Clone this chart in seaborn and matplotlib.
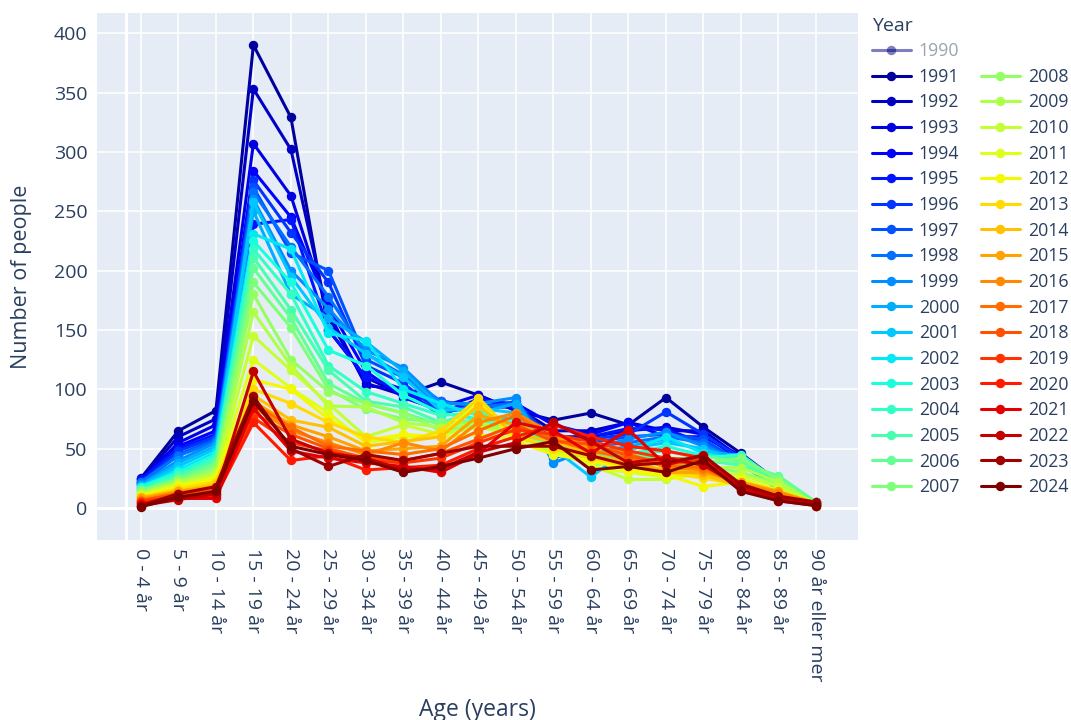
import numpy as np
import pandas as pd
import matplotlib
matplotlib.use("Agg")
import matplotlib.pyplot as plt
from matplotlib.lines import Line2D
import seaborn as sns

# age groups (x axis categories)
ages = ["0 - 4 år", "5 - 9 år", "10 - 14 år", "15 - 19 år", "20 - 24 år",
        "25 - 29 år", "30 - 34 år", "35 - 39 år", "40 - 44 år", "45 - 49 år",
        "50 - 54 år", "55 - 59 år", "60 - 64 år", "65 - 69 år", "70 - 74 år",
        "75 - 79 år", "80 - 84 år", "85 - 89 år", "90 år eller mer"]

years = list(range(1990, 2025))
hidden_year = 1990  # shown in legend only (trace switched off)

# number of people per age group, one list per year
y1991 = [25, 65, 82, 390, 329, 150, 110, 95, 106, 95, 82, 74, 80, 70, 93, 68, 46, 22, 4]
y1992 = [24, 60, 75, 353, 302, 160, 105, 95, 90, 85, 85, 65, 65, 72, 65, 65, 42, 20, 4]
y1993 = [23, 55, 70, 307, 263, 165, 103, 100, 85, 95, 82, 60, 60, 65, 68, 62, 40, 18, 3]
y1994 = [22, 52, 65, 284, 245, 170, 115, 93, 82, 90, 88, 70, 62, 72, 60, 60, 44, 20, 4]
y1995 = [24, 50, 62, 239, 243, 150, 110, 100, 78, 92, 85, 55, 60, 67, 66, 55, 40, 15, 3]
y1996 = [21, 48, 60, 276, 232, 190, 120, 105, 80, 86, 88, 58, 58, 62, 81, 62, 42, 18, 5]
y1997 = [20, 45, 58, 270, 215, 200, 125, 110, 85, 82, 90, 50, 55, 60, 62, 58, 38, 16, 3]
y1998 = [22, 44, 56, 266, 220, 178, 130, 112, 90, 85, 88, 42, 52, 55, 60, 55, 36, 18, 4]
y1999 = [20, 40, 55, 260, 200, 168, 133, 118, 88, 88, 93, 38, 50, 58, 64, 52, 40, 15, 3]
y2000 = [19, 38, 52, 250, 180, 160, 140, 115, 85, 80, 88, 45, 46, 52, 58, 48, 44, 18, 5]
y2001 = [18, 35, 50, 258, 195, 152, 130, 110, 82, 84, 80, 50, 26, 50, 55, 50, 38, 16, 4]
y2002 = [17, 32, 47, 231, 218, 147, 141, 100, 88, 78, 75, 55, 40, 48, 60, 46, 40, 20, 3]
y2003 = [18, 30, 45, 225, 190, 133, 120, 95, 80, 75, 72, 52, 42, 45, 52, 44, 42, 18, 4]
y2004 = [16, 28, 42, 218, 180, 120, 98, 88, 78, 80, 70, 50, 38, 46, 48, 42, 45, 22, 5]
y2005 = [15, 27, 40, 211, 167, 116, 90, 85, 72, 82, 68, 48, 45, 44, 42, 40, 36, 26, 4]
y2006 = [14, 25, 38, 202, 160, 105, 88, 80, 70, 75, 65, 50, 48, 42, 40, 44, 38, 27, 5]
y2007 = [15, 24, 35, 190, 152, 100, 83, 75, 72, 72, 62, 46, 40, 40, 38, 38, 42, 24, 3]
y2008 = [13, 22, 32, 180, 125, 98, 88, 80, 65, 70, 60, 52, 35, 42, 35, 36, 30, 20, 4]
y2009 = [12, 22, 30, 165, 120, 86, 85, 72, 68, 72, 64, 46, 38, 36, 30, 34, 34, 22, 3]
y2010 = [11, 20, 28, 145, 116, 88, 60, 70, 62, 68, 62, 48, 36, 24, 24, 30, 28, 18, 4]
y2011 = [11, 19, 26, 125, 101, 80, 55, 60, 60, 62, 58, 52, 34, 30, 26, 28, 25, 15, 3]
y2012 = [10, 18, 24, 108, 100, 75, 57, 62, 60, 90, 56, 45, 40, 32, 28, 18, 22, 14, 4]
y2013 = [9, 16, 22, 100, 88, 72, 60, 55, 65, 93, 60, 50, 42, 35, 30, 25, 20, 12, 3]
y2014 = [9, 14, 20, 95, 74, 68, 52, 56, 60, 86, 62, 56, 45, 38, 32, 28, 18, 12, 3]
y2015 = [8, 14, 18, 90, 70, 60, 48, 50, 52, 78, 70, 60, 50, 40, 30, 30, 22, 14, 4]
y2016 = [7, 13, 17, 85, 65, 55, 45, 55, 48, 72, 80, 62, 52, 46, 34, 32, 20, 13, 3]
y2017 = [6, 12, 16, 88, 68, 52, 48, 45, 50, 65, 78, 58, 48, 42, 36, 34, 18, 10, 3]
y2018 = [6, 12, 15, 80, 62, 50, 42, 40, 46, 58, 70, 56, 54, 44, 38, 38, 20, 9, 4]
y2019 = [5, 10, 12, 76, 55, 48, 40, 38, 42, 55, 66, 62, 56, 48, 42, 40, 18, 8, 2]
y2020 = [4, 9, 10, 72, 40, 44, 32, 34, 36, 50, 60, 70, 60, 52, 48, 42, 16, 7, 3]
y2021 = [3, 8, 8, 84, 48, 42, 38, 35, 30, 46, 72, 65, 46, 66, 36, 45, 15, 6, 2]
y2022 = [2, 7, 12, 115, 58, 46, 42, 32, 33, 47, 55, 72, 56, 38, 42, 36, 18, 8, 3]
y2023 = [2, 12, 18, 94, 50, 35, 45, 40, 46, 52, 52, 52, 44, 36, 38, 44, 20, 10, 5]
y2024 = [1, 9, 14, 90, 52, 45, 40, 30, 35, 42, 50, 56, 32, 35, 30, 40, 14, 6, 2]

series = [y1991, y1992, y1993, y1994, y1995, y1996, y1997, y1998, y1999, y2000,
          y2001, y2002, y2003, y2004, y2005, y2006, y2007, y2008, y2009, y2010,
          y2011, y2012, y2013, y2014, y2015, y2016, y2017, y2018, y2019, y2020,
          y2021, y2022, y2023, y2024]
shown_years = years[1:]

rows = []
for yr, vals in zip(shown_years, series):
    for a, v in zip(ages, vals):
        rows.append({"Age": a, "Year": yr, "People": v})
df = pd.DataFrame(rows)

text_col = "#2a3f5f"
cmap = matplotlib.colormaps["jet"]
palette = {yr: cmap(i / (len(years) - 1)) for i, yr in enumerate(years)}

sns.set_theme(style="darkgrid", rc={
    "axes.facecolor": "#E5ECF6",
    "grid.color": "white",
    "grid.linewidth": 1.1,
    "axes.edgecolor": "none",
})
plt.rcParams["font.family"] = ["Open Sans", "DejaVu Sans"]
plt.rcParams["text.color"] = text_col
plt.rcParams["axes.labelcolor"] = text_col
plt.rcParams["xtick.color"] = text_col
plt.rcParams["ytick.color"] = text_col

fig = plt.figure(figsize=(10.71, 7.2), dpi=100)
fig.patch.set_facecolor("white")
ax = fig.add_axes([97 / 1071, 1 - 540 / 720, (858 - 97) / 1071, (540 - 13) / 720])

sns.lineplot(data=df, x="Age", y="People", hue="Year", palette=palette,
             marker="o", markersize=6.8, markeredgewidth=0, linewidth=2.2,
             sort=False, legend=False, ax=ax)

ax.set_xlim(-1.17, 19.12)
ax.set_ylim(-27, 417)
ax.set_yticks(range(0, 401, 50))
ax.axhline(0, color="white", linewidth=2.2, zorder=0.6)
ax.axvline(-0.4, color="white", linewidth=2.2, zorder=0.6)
ax.grid(True, color="white", linewidth=1.1)
ax.set_axisbelow(True)

ax.tick_params(axis="both", length=0, labelsize=14)
ax.tick_params(axis="x", labelrotation=-90, pad=6)
ax.tick_params(axis="y", pad=7)

ax.set_xlabel("Age (years)", fontsize=16.5)
ax.set_ylabel("Number of people", fontsize=15.5)
ax.xaxis.set_label_coords(0.5, -0.30)
ax.yaxis.set_label_coords(-0.085, 0.5)

# legend: 1990 greyed out (hidden trace), second column starts one row down
handles = []
labels = []
for yr in years:
    hidden = yr == hidden_year
    handles.append(Line2D([], [], color=palette[yr], marker="o", markersize=6.8,
                          markeredgewidth=0, linewidth=2.2,
                          alpha=0.5 if hidden else 1.0))
    labels.append(str(yr))
    if yr == 2007:
        handles.append(Line2D([], [], color="none"))
        labels.append("")

leg = ax.legend(handles, labels, ncol=2, title="Year", loc="upper left",
                bbox_to_anchor=(868 / 1071, 1 - 13 / 720),
                bbox_transform=fig.transFigure, frameon=False,
                fontsize=12.8, title_fontsize=14, alignment="left",
                handlelength=2.2, handletextpad=0.45, columnspacing=1.2,
                labelspacing=0.43, borderpad=0.2, borderaxespad=0)
for t in leg.get_texts():
    t.set_color(text_col)
leg.get_texts()[0].set_color("#9aa3b3")
leg.get_title().set_color(text_col)

fig.savefig("out.png", dpi=100)
